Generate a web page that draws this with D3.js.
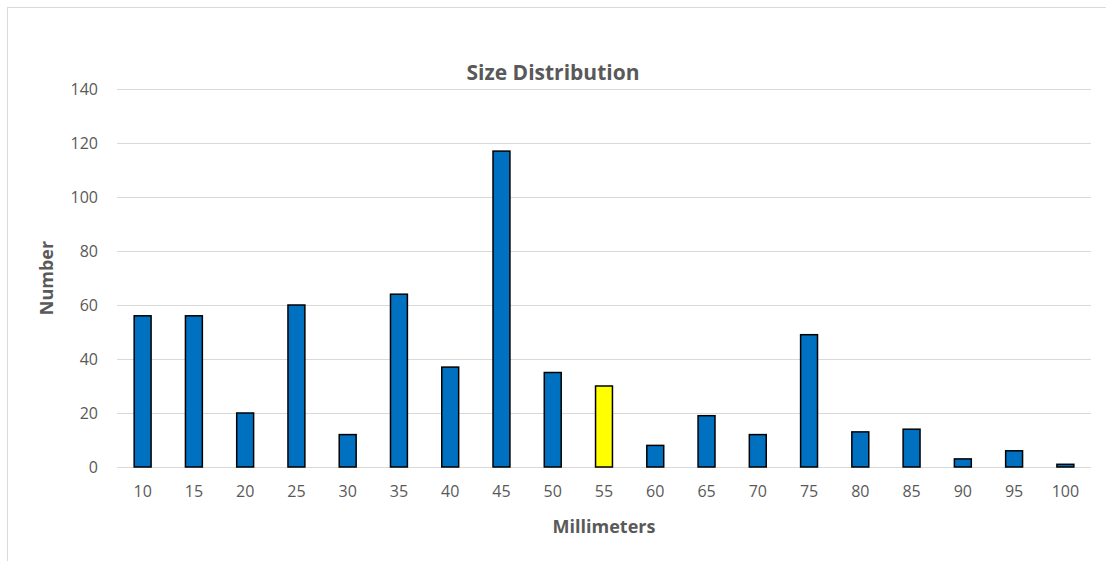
<!DOCTYPE html>
<html>
<head>
<meta charset="utf-8">
<script src="https://d3js.org/d3.v7.min.js"></script>
<style>
  body { margin: 0; background: #fff; }
  text { font-family: "Open Sans", "Liberation Sans", sans-serif; fill: #595959; }
</style>
</head>
<body>
<script>
var categories = ["10", "15", "20", "25", "30", "35", "40", "45", "50", "55",
  "60", "65", "70", "75", "80", "85", "90", "95", "100"];
var counts = [56, 56, 20, 60, 12, 64, 37, 117, 35, 30, 8, 19, 12, 49, 13, 14, 3, 6, 1];
var highlighted = ["55"];
var yTicks = [0, 20, 40, 60, 80, 100, 120, 140];

var width = 1106, height = 561;
var margin = { left: 117, right: 15, top: 89, bottom: 94 };

var svg = d3.select("body").append("svg")
  .attr("width", width)
  .attr("height", height);

// chart frame
svg.append("rect")
  .attr("x", 7.5).attr("y", 7.5)
  .attr("width", width + 10).attr("height", height + 10)
  .attr("fill", "none")
  .attr("stroke", "#d9d9d9");

var x = d3.scaleBand()
  .domain(categories)
  .range([margin.left, width - margin.right])
  .paddingInner(0.67)
  .paddingOuter(0.335);

var y = d3.scaleLinear()
  .domain([0, 140])
  .range([height - margin.bottom, margin.top]);

// gridlines
svg.append("g")
  .selectAll("line")
  .data(yTicks)
  .join("line")
    .attr("x1", margin.left)
    .attr("x2", width - margin.right)
    .attr("y1", function(d) { return Math.round(y(d)) + 0.5; })
    .attr("y2", function(d) { return Math.round(y(d)) + 0.5; })
    .attr("stroke", "#d9d9d9")
    .attr("stroke-width", 1);

var yAxis = svg.append("g")
  .attr("transform", "translate(" + margin.left + ",0)")
  .call(d3.axisLeft(y).tickValues(yTicks).tickSize(0).tickPadding(19));
yAxis.select(".domain").remove();
yAxis.selectAll("text").style("font-size", "16px").attr("fill", "#595959");

var xAxis = svg.append("g")
  .attr("transform", "translate(0," + (height - margin.bottom) + ")")
  .call(d3.axisBottom(x).tickSize(0).tickPadding(19));
xAxis.select(".domain").remove();
xAxis.selectAll("text").style("font-size", "16px").attr("fill", "#595959");

// bars
svg.append("g")
  .selectAll("rect")
  .data(categories)
  .join("rect")
    .attr("x", function(d) { return x(d); })
    .attr("width", x.bandwidth())
    .attr("y", function(d, i) { return y(counts[i]); })
    .attr("height", function(d, i) { return y(0) - y(counts[i]); })
    .attr("fill", function(d) { return highlighted.indexOf(d) >= 0 ? "#ffff00" : "#0070c0"; })
    .attr("stroke", "#000")
    .attr("stroke-width", 1.5);

svg.append("text")
  .attr("x", 553).attr("y", 80)
  .attr("text-anchor", "middle")
  .style("font-size", "21px")
  .style("font-weight", "bold")
  .text("Size Distribution");

svg.append("text")
  .attr("x", (margin.left + width - margin.right) / 2)
  .attr("y", 533)
  .attr("text-anchor", "middle")
  .style("font-size", "18px")
  .style("font-weight", "bold")
  .text("Millimeters");

svg.append("text")
  .attr("transform", "translate(53," + ((margin.top + height - margin.bottom) / 2) + ") rotate(-90)")
  .attr("text-anchor", "middle")
  .style("font-size", "18px")
  .style("font-weight", "bold")
  .text("Number");
</script>
</body>
</html>
